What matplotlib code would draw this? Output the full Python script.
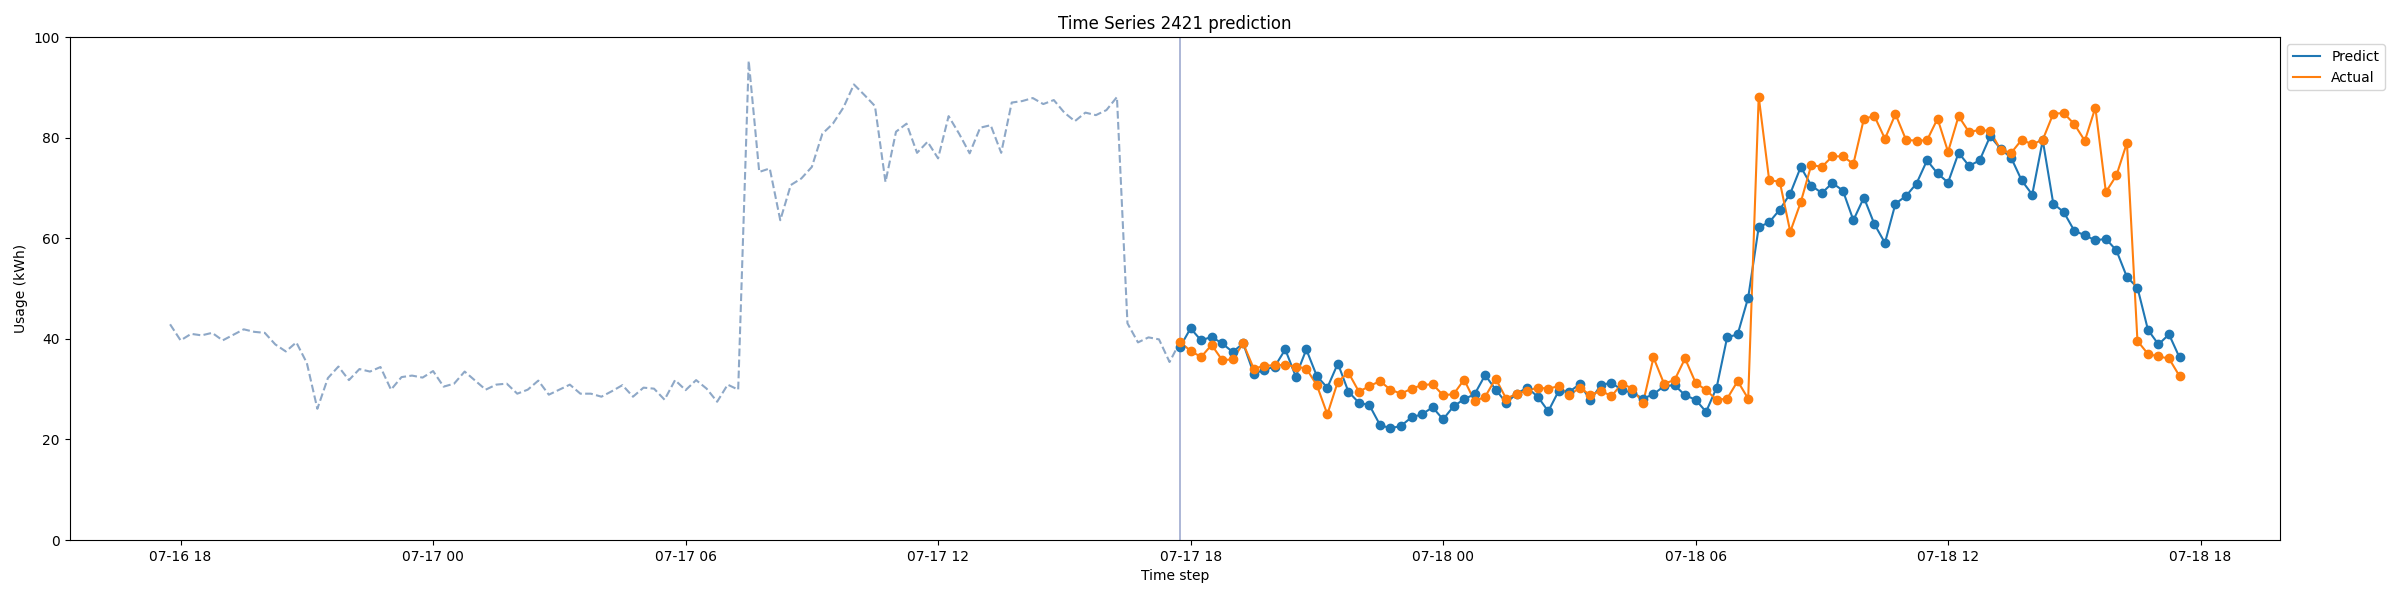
import matplotlib
matplotlib.use("Agg")
import matplotlib.pyplot as plt
import matplotlib.dates as mdates
import numpy as np
import pandas as pd

# history (15 min steps from 07-16 17:45 to 07-17 17:45)
history = [42.9, 39.7, 41.0, 40.7, 41.2, 39.7, 40.8, 41.9, 41.4, 41.2,
           38.9, 37.5, 39.3, 35.2, 26.1, 32.2, 34.5, 31.8, 34.0, 33.5,
           34.4, 29.9, 32.4, 32.7, 32.3, 33.6, 30.5, 31.1, 33.5, 31.7,
           29.9, 30.9, 31.1, 29.1, 29.9, 31.7, 28.9, 29.9, 30.9, 29.1,
           29.1, 28.5, 29.6, 30.8, 28.5, 30.3, 30.1, 27.9, 31.8, 29.8,
           31.8, 30.1, 27.5, 30.9, 29.9, 95.3, 73.2, 73.9, 63.6, 70.6,
           71.9, 74.2, 80.8, 82.8, 86.0, 90.6, 88.5, 86.3, 71.2, 81.2,
           82.8, 77.0, 79.2, 75.9, 84.3, 80.8, 76.9, 82.0, 82.5, 77.0,
           87.0, 87.3, 87.9, 86.7, 87.5, 85.0, 83.3, 85.0, 84.5, 85.5,
           88.1, 43.1, 39.3, 40.3, 39.9, 35.4, 39.4]

# forecast window (15 min steps from 07-17 17:45 to 07-18 17:30)
predict = [38.4, 42.1, 39.7, 40.4, 39.1, 37.4, 39.1, 33.1, 33.8, 34.5,
           37.9, 32.5, 37.9, 32.6, 30.3, 35.1, 29.5, 27.3, 26.8, 22.9,
           22.2, 22.7, 24.4, 25.0, 26.4, 24.0, 26.6, 28.0, 29.0, 32.8,
           29.9, 27.3, 29.1, 30.3, 28.5, 25.6, 29.7, 29.5, 31.0, 27.8,
           30.8, 31.3, 29.8, 29.3, 28.1, 29.0, 30.6, 30.8, 28.8, 27.9,
           25.5, 30.3, 40.3, 40.9, 48.2, 62.2, 63.2, 65.7, 68.9, 74.2,
           70.5, 69.0, 71.0, 69.5, 63.6, 68.1, 62.8, 59.1, 66.9, 68.4,
           70.9, 75.5, 72.9, 71.1, 77.0, 74.4, 75.5, 80.3, 77.8, 76.0,
           71.5, 68.7, 79.5, 66.9, 65.2, 61.5, 60.6, 59.6, 59.9, 57.6,
           52.3, 50.2, 41.8, 38.9, 40.9, 36.3]

actual = [39.4, 37.6, 36.4, 38.8, 35.8, 35.9, 39.1, 34.1, 34.6, 34.8,
          34.8, 34.5, 34.1, 30.8, 25.0, 31.5, 33.3, 29.5, 30.6, 31.6,
          29.9, 29.1, 30.1, 30.8, 31.0, 28.8, 29.0, 31.9, 27.6, 28.5,
          32.1, 28.1, 29.1, 29.7, 30.3, 30.1, 30.6, 28.8, 30.3, 28.8,
          29.7, 28.6, 31.1, 30.1, 27.2, 36.3, 31.1, 31.8, 36.1, 31.3,
          29.8, 27.9, 28.1, 31.6, 28.1, 88.2, 71.5, 71.3, 61.3, 67.2,
          74.6, 74.2, 76.3, 76.3, 74.8, 83.8, 84.3, 79.8, 84.7, 79.6,
          79.4, 79.5, 83.8, 77.2, 84.3, 81.1, 81.6, 81.3, 77.6, 77.0,
          79.6, 78.7, 79.6, 84.8, 84.9, 82.7, 79.4, 86.0, 69.2, 72.5,
          79.0, 39.6, 37.0, 36.5, 36.1, 32.6]

hist_time = pd.date_range("2016-07-16 17:45", periods=len(history), freq="15min")
pred_time = pd.date_range("2016-07-17 17:45", periods=len(predict), freq="15min")

fig, ax = plt.subplots(figsize=(24, 6), dpi=100)

ax.plot(hist_time, history, linestyle="--", color="#8ea8c7")
ax.axvline(pred_time[0], color="#9eaad0", linewidth=1.2)

ax.plot(pred_time, predict, color="C0", label="Predict")
ax.scatter(pred_time, predict, color="C0", zorder=3)
ax.plot(pred_time, actual, color="C1", label="Actual")
ax.scatter(pred_time, actual, color="C1", zorder=3)

ax.set_ylim(0, 100)
ax.xaxis.set_major_locator(mdates.HourLocator(byhour=[0, 6, 12, 18]))
ax.xaxis.set_major_formatter(mdates.DateFormatter("%m-%d %H"))

ax.set_title("Time Series 2421 prediction")
ax.set_xlabel("Time step")
ax.set_ylabel("Usage (kWh)")
ax.legend(loc="upper left", bbox_to_anchor=(1, 1))

plt.subplots_adjust(left=0.029, right=0.950, top=0.938, bottom=0.1)
plt.savefig("out.png")
